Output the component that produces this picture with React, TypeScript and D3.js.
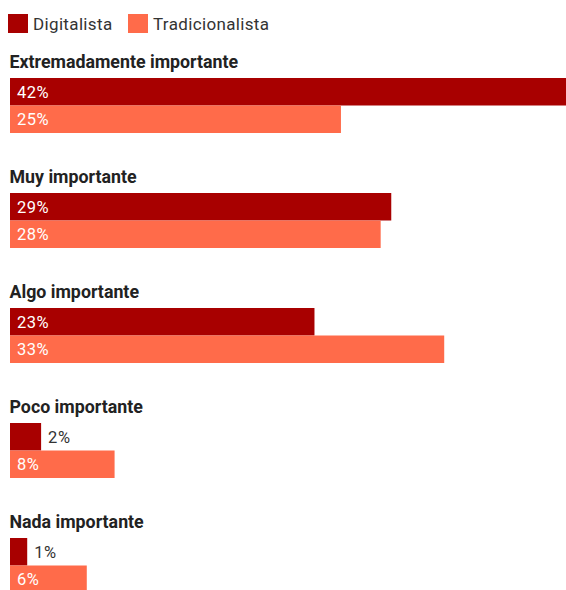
import React from "react";
import * as d3 from "d3";

const categories = [
  "Extremadamente importante",
  "Muy importante",
  "Algo importante",
  "Poco importante",
  "Nada importante",
];
const seriesNames = ["Digitalista", "Tradicionalista"];
const digitalista = [42, 28.8, 23, 2.35, 1.3];
const tradicionalista = [25, 28, 32.8, 7.9, 5.8];
const colors = ["#a80000", "#ff6b4a"];

const W = 566;
const H = 590;
const FONT = "Roboto, 'Noto Sans', sans-serif";

export default function App() {
  const x = d3.scaleLinear().domain([0, 42]).range([10, 566]);
  const groupY = d3
    .scaleBand<string>()
    .domain(categories)
    .range([50, 50 + 115 * categories.length])
    .paddingInner(0)
    .paddingOuter(0);
  const barH = 27.5;
  const series = [digitalista, tradicionalista];

  return (
    <svg
      width={W}
      height={H}
      style={{ position: "absolute", left: 0, top: 0, fontFamily: FONT }}
    >
      <g>
        {seriesNames.map((name, i) => {
          const lx = i === 0 ? 8 : 128;
          return (
            <g key={name}>
              <rect x={lx} y={14} width={20} height={19} fill={colors[i]} />
              <text x={lx + 25} y={29.5} fontSize={17} letterSpacing={0.35} fill="#333">
                {name}
              </text>
            </g>
          );
        })}
      </g>
      {categories.map((cat, ci) => {
        const gy = groupY(cat)!;
        return (
          <g key={cat}>
            <text x={9.5} y={gy + 18} fontSize={17.8} fontWeight="bold" fill="#222">
              {cat}
            </text>
            {series.map((vals, si) => {
              const v = vals[ci];
              const y0 = gy + 28 + si * barH;
              const x1 = x(v);
              const inside = x1 - x(0) > 40;
              return (
                <g key={si}>
                  <rect
                    x={x(0)}
                    y={y0}
                    width={x1 - x(0)}
                    height={barH}
                    fill={colors[si]}
                  />
                  <text
                    x={inside ? x(0) + 7 : x1 + 7}
                    y={y0 + barH / 2}
                    dy="0.37em"
                    fontSize={16.5}
                    letterSpacing={0.5}
                    fill={inside ? "#fff" : "#333"}
                  >
                    {Math.round(v)}%
                  </text>
                </g>
              );
            })}
          </g>
        );
      })}
    </svg>
  );
}
